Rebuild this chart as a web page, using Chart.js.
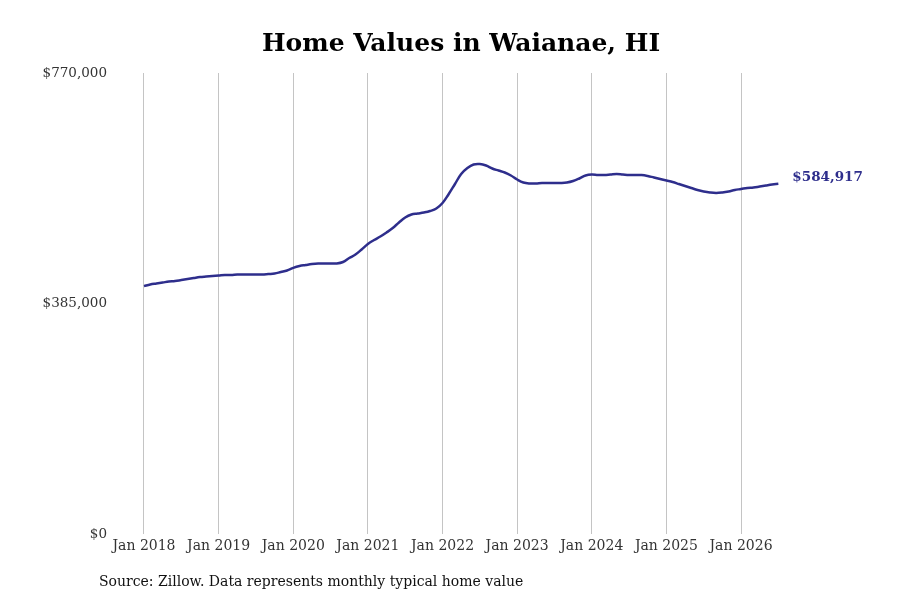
<!DOCTYPE html>
<html>
<head>
<meta charset="utf-8">
<title>Home Values in Waianae, HI</title>
<script src="https://cdn.jsdelivr.net/npm/chart.js@4.4.1/dist/chart.umd.min.js"></script>
<style>
  html, body { margin: 0; padding: 0; background: #ffffff; }
  #wrap { width: 900px; height: 600px; position: relative; }
</style>
</head>
<body>
<div id="wrap"><canvas id="homeChart" width="900" height="600"></canvas></div>
<script>
// monthly typical home value, Jan 2018 .. Jul 2026
const values2018 = [414000, 416700, 418400, 420000, 421700, 422500, 424200, 425900, 427600, 429200, 430100, 430900];
const values2019 = [431700, 432600, 432600, 433400, 433400, 433400, 433400, 433400, 434200, 435100, 437600, 440100];
const values2020 = [444500, 447600, 449300, 450900, 451800, 451800, 451800, 451800, 454300, 461000, 466800, 475200];
const values2021 = [484400, 491000, 496900, 503600, 511100, 520300, 528600, 533600, 535300, 537000, 539500, 543700];
const values2022 = [552900, 567900, 584600, 601300, 611300, 617200, 618000, 615500, 610500, 607100, 603800, 598800];
const values2023 = [592100, 587100, 585400, 585400, 586300, 586300, 586300, 586300, 587100, 589600, 593800, 598800];
const values2024 = [600400, 599600, 599600, 600400, 601300, 600400, 599600, 599600, 599600, 598000, 595400, 592900];
const values2025 = [590400, 587900, 584600, 581200, 577900, 574600, 572100, 570400, 569600, 570400, 572100, 574600];
const values2026 = [576200, 577900, 578700, 580400, 582100, 583700, 584917];

const yearLabels = ["Jan 2018", "Jan 2019", "Jan 2020", "Jan 2021", "Jan 2022",
  "Jan 2023", "Jan 2024", "Jan 2025", "Jan 2026"];
const yTickValues = [0, 385000, 770000];

const lineColor = "#2e2e8c";
const serif = "'DejaVu Serif', serif";

const allValues = [].concat(values2018, values2019, values2020, values2021,
  values2022, values2023, values2024, values2025, values2026);

// month index since Jan 2018 for every point
const points = allValues.map(function(v, i){
  return {x: i, y: v};
});

function money(v){
  return "$" + Math.round(v).toLocaleString("en-US");
}

// title, source line and end label
const textPlugin = {
  id: "texts",
  afterDraw: function(chart){
    const ctx = chart.ctx;
    ctx.save();

    ctx.fillStyle = "#000000";
    ctx.font = "bold 25px " + serif;
    ctx.textAlign = "center";
    ctx.textBaseline = "middle";
    ctx.fillText("Home Values in Waianae, HI", 461, 44);

    ctx.fillStyle = "#111111";
    ctx.font = "14px " + serif;
    ctx.textAlign = "left";
    ctx.fillText("Source: Zillow. Data represents monthly typical home value", 99, 582);

    const meta = chart.getDatasetMeta(0);
    const last = meta.data[meta.data.length - 1];
    ctx.fillStyle = lineColor;
    ctx.font = "bold 13.5px " + serif;
    ctx.fillText(money(allValues[allValues.length - 1]), last.x + 14, last.y - 6);

    ctx.restore();
  }
};

const ctx = document.getElementById("homeChart");

new Chart(ctx, {
  type: "line",
  data: {
    datasets: [{
      label: "Home value",
      data: points,
      borderColor: lineColor,
      borderWidth: 2.5,
      pointRadius: 0,
      tension: 0.4,
      fill: false
    }]
  },
  options: {
    responsive: false,
    animation: false,
    layout: {
      padding: {left: 22, right: 0, top: 73, bottom: 0}
    },
    plugins: {
      legend: {display: false},
      tooltip: {enabled: false},
      title: {display: false}
    },
    scales: {
      x: {
        type: "linear",
        min: -4.663,
        max: 121.56,
        afterBuildTicks: function(axis){
          axis.ticks = yearLabels.map(function(l, i){
            return {value: i * 12};
          });
        },
        afterFit: function(axis){
          axis.height = 66;
        },
        ticks: {
          autoSkip: false,
          maxRotation: 0,
          padding: 4,
          color: "#333333",
          font: {family: serif, size: 14},
          callback: function(value){
            return yearLabels[Math.round(value / 12)];
          }
        },
        grid: {
          display: true,
          drawTicks: false,
          color: "#c4c4c4",
          lineWidth: 1
        },
        border: {display: false}
      },
      y: {
        min: 0,
        max: 770000,
        afterBuildTicks: function(axis){
          axis.ticks = yTickValues.map(function(v){
            return {value: v};
          });
        },
        afterFit: function(axis){
          axis.width = 93;
        },
        ticks: {
          padding: 8,
          color: "#333333",
          font: {family: serif, size: 13.5},
          callback: function(value){
            return money(value);
          }
        },
        grid: {display: false, drawTicks: false},
        border: {display: false}
      }
    }
  },
  plugins: [textPlugin]
});
</script>
</body>
</html>
